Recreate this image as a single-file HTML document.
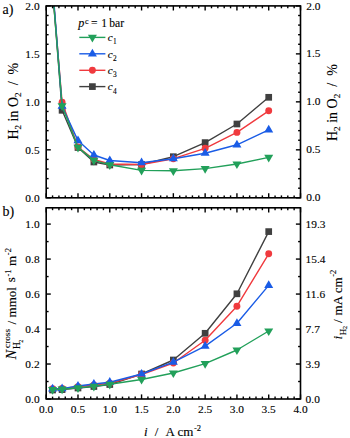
<!DOCTYPE html><html><head><meta charset="utf-8"><style>html,body{margin:0;padding:0;background:#fff;}svg{display:block;}text{font-family:"Liberation Serif",serif;fill:#000;stroke:#000;stroke-width:0.12px;}</style></head><body>
<svg width="350" height="438" viewBox="0 0 350 438">
<defs><clipPath id="ca"><rect x="46.2" y="5.9" width="254.3" height="191.9"/></clipPath><clipPath id="cb"><rect x="46.2" y="207.8" width="254.3" height="191.2"/></clipPath></defs>
<polyline points="52.56,-12.00 62.09,110.30 77.99,147.50 93.88,162.00 109.78,165.00 141.56,164.50 173.35,156.70 205.14,142.60 236.93,124.00 268.71,97.30" fill="none" stroke="#404040" stroke-width="1.4" stroke-linejoin="round" clip-path="url(#ca)"/>
<rect x="58.74" y="106.95" width="6.7" height="6.7" fill="#404040"/>
<rect x="74.64" y="144.15" width="6.7" height="6.7" fill="#404040"/>
<rect x="90.53" y="158.65" width="6.7" height="6.7" fill="#404040"/>
<rect x="106.43" y="161.65" width="6.7" height="6.7" fill="#404040"/>
<rect x="138.21" y="161.15" width="6.7" height="6.7" fill="#404040"/>
<rect x="170.00" y="153.35" width="6.7" height="6.7" fill="#404040"/>
<rect x="201.79" y="139.25" width="6.7" height="6.7" fill="#404040"/>
<rect x="233.58" y="120.65" width="6.7" height="6.7" fill="#404040"/>
<rect x="265.36" y="93.95" width="6.7" height="6.7" fill="#404040"/>
<polyline points="52.56,-11.00 62.09,102.20 77.99,147.00 93.88,159.50 109.78,164.00 141.56,164.50 173.35,158.70 205.14,148.30 236.93,132.40 268.71,110.80" fill="none" stroke="#f03a3e" stroke-width="1.4" stroke-linejoin="round" clip-path="url(#ca)"/>
<circle cx="62.09" cy="102.20" r="3.45" fill="#f03a3e"/>
<circle cx="77.99" cy="147.00" r="3.45" fill="#f03a3e"/>
<circle cx="93.88" cy="159.50" r="3.45" fill="#f03a3e"/>
<circle cx="109.78" cy="164.00" r="3.45" fill="#f03a3e"/>
<circle cx="141.56" cy="164.50" r="3.45" fill="#f03a3e"/>
<circle cx="173.35" cy="158.70" r="3.45" fill="#f03a3e"/>
<circle cx="205.14" cy="148.30" r="3.45" fill="#f03a3e"/>
<circle cx="236.93" cy="132.40" r="3.45" fill="#f03a3e"/>
<circle cx="268.71" cy="110.80" r="3.45" fill="#f03a3e"/>
<polyline points="52.56,-15.00 62.09,106.20 77.99,140.60 93.88,155.00 109.78,160.50 141.56,162.70 173.35,158.70 205.14,153.20 236.93,144.80 268.71,129.90" fill="none" stroke="#1a5ce6" stroke-width="1.4" stroke-linejoin="round" clip-path="url(#ca)"/>
<polygon points="57.59,108.80 66.59,108.80 62.09,101.10" fill="#1a5ce6"/>
<polygon points="73.49,143.20 82.49,143.20 77.99,135.50" fill="#1a5ce6"/>
<polygon points="89.38,157.60 98.38,157.60 93.88,149.90" fill="#1a5ce6"/>
<polygon points="105.28,163.10 114.28,163.10 109.78,155.40" fill="#1a5ce6"/>
<polygon points="137.06,165.30 146.06,165.30 141.56,157.60" fill="#1a5ce6"/>
<polygon points="168.85,161.30 177.85,161.30 173.35,153.60" fill="#1a5ce6"/>
<polygon points="200.64,155.80 209.64,155.80 205.14,148.10" fill="#1a5ce6"/>
<polygon points="232.43,147.40 241.43,147.40 236.93,139.70" fill="#1a5ce6"/>
<polygon points="264.21,132.50 273.21,132.50 268.71,124.80" fill="#1a5ce6"/>
<polyline points="52.56,-10.00 62.09,105.80 77.99,147.40 93.88,160.40 109.78,164.80 141.56,170.40 173.35,170.80 205.14,168.60 236.93,164.00 268.71,157.40" fill="none" stroke="#22a05a" stroke-width="1.4" stroke-linejoin="round" clip-path="url(#ca)"/>
<polygon points="57.59,103.20 66.59,103.20 62.09,110.90" fill="#22a05a"/>
<polygon points="73.49,144.80 82.49,144.80 77.99,152.50" fill="#22a05a"/>
<polygon points="89.38,157.80 98.38,157.80 93.88,165.50" fill="#22a05a"/>
<polygon points="105.28,162.20 114.28,162.20 109.78,169.90" fill="#22a05a"/>
<polygon points="137.06,167.80 146.06,167.80 141.56,175.50" fill="#22a05a"/>
<polygon points="168.85,168.20 177.85,168.20 173.35,175.90" fill="#22a05a"/>
<polygon points="200.64,166.00 209.64,166.00 205.14,173.70" fill="#22a05a"/>
<polygon points="232.43,161.40 241.43,161.40 236.93,169.10" fill="#22a05a"/>
<polygon points="264.21,154.80 273.21,154.80 268.71,162.50" fill="#22a05a"/>
<polyline points="52.56,390.00 62.09,389.60 77.99,388.00 93.88,386.50 109.78,384.50 141.56,374.00 173.35,360.00 205.14,333.30 236.93,293.80 268.71,231.60" fill="none" stroke="#404040" stroke-width="1.4" stroke-linejoin="round" clip-path="url(#cb)"/>
<rect x="49.21" y="386.65" width="6.7" height="6.7" fill="#404040"/>
<rect x="58.74" y="386.25" width="6.7" height="6.7" fill="#404040"/>
<rect x="74.64" y="384.65" width="6.7" height="6.7" fill="#404040"/>
<rect x="90.53" y="383.15" width="6.7" height="6.7" fill="#404040"/>
<rect x="106.43" y="381.15" width="6.7" height="6.7" fill="#404040"/>
<rect x="138.21" y="370.65" width="6.7" height="6.7" fill="#404040"/>
<rect x="170.00" y="356.65" width="6.7" height="6.7" fill="#404040"/>
<rect x="201.79" y="329.95" width="6.7" height="6.7" fill="#404040"/>
<rect x="233.58" y="290.45" width="6.7" height="6.7" fill="#404040"/>
<rect x="265.36" y="228.25" width="6.7" height="6.7" fill="#404040"/>
<polyline points="52.56,388.80 62.09,388.40 77.99,386.80 93.88,385.00 109.78,383.20 141.56,374.50 173.35,363.00 205.14,340.20 236.93,306.20 268.71,253.80" fill="none" stroke="#f03a3e" stroke-width="1.4" stroke-linejoin="round" clip-path="url(#cb)"/>
<circle cx="52.56" cy="388.80" r="3.45" fill="#f03a3e"/>
<circle cx="62.09" cy="388.40" r="3.45" fill="#f03a3e"/>
<circle cx="77.99" cy="386.80" r="3.45" fill="#f03a3e"/>
<circle cx="93.88" cy="385.00" r="3.45" fill="#f03a3e"/>
<circle cx="109.78" cy="383.20" r="3.45" fill="#f03a3e"/>
<circle cx="141.56" cy="374.50" r="3.45" fill="#f03a3e"/>
<circle cx="173.35" cy="363.00" r="3.45" fill="#f03a3e"/>
<circle cx="205.14" cy="340.20" r="3.45" fill="#f03a3e"/>
<circle cx="236.93" cy="306.20" r="3.45" fill="#f03a3e"/>
<circle cx="268.71" cy="253.80" r="3.45" fill="#f03a3e"/>
<polyline points="52.56,388.90 62.09,388.60 77.99,386.00 93.88,384.00 109.78,382.20 141.56,374.00 173.35,362.20 205.14,346.10 236.93,323.30 268.71,285.40" fill="none" stroke="#1a5ce6" stroke-width="1.4" stroke-linejoin="round" clip-path="url(#cb)"/>
<polygon points="48.06,391.50 57.06,391.50 52.56,383.80" fill="#1a5ce6"/>
<polygon points="57.59,391.20 66.59,391.20 62.09,383.50" fill="#1a5ce6"/>
<polygon points="73.49,388.60 82.49,388.60 77.99,380.90" fill="#1a5ce6"/>
<polygon points="89.38,386.60 98.38,386.60 93.88,378.90" fill="#1a5ce6"/>
<polygon points="105.28,384.80 114.28,384.80 109.78,377.10" fill="#1a5ce6"/>
<polygon points="137.06,376.60 146.06,376.60 141.56,368.90" fill="#1a5ce6"/>
<polygon points="168.85,364.80 177.85,364.80 173.35,357.10" fill="#1a5ce6"/>
<polygon points="200.64,348.70 209.64,348.70 205.14,341.00" fill="#1a5ce6"/>
<polygon points="232.43,325.90 241.43,325.90 236.93,318.20" fill="#1a5ce6"/>
<polygon points="264.21,288.00 273.21,288.00 268.71,280.30" fill="#1a5ce6"/>
<polyline points="52.56,389.60 62.09,389.20 77.99,387.80 93.88,386.40 109.78,384.30 141.56,379.50 173.35,373.00 205.14,363.60 236.93,350.00 268.71,331.00" fill="none" stroke="#22a05a" stroke-width="1.4" stroke-linejoin="round" clip-path="url(#cb)"/>
<polygon points="48.06,387.00 57.06,387.00 52.56,394.70" fill="#22a05a"/>
<polygon points="57.59,386.60 66.59,386.60 62.09,394.30" fill="#22a05a"/>
<polygon points="73.49,385.20 82.49,385.20 77.99,392.90" fill="#22a05a"/>
<polygon points="89.38,383.80 98.38,383.80 93.88,391.50" fill="#22a05a"/>
<polygon points="105.28,381.70 114.28,381.70 109.78,389.40" fill="#22a05a"/>
<polygon points="137.06,376.90 146.06,376.90 141.56,384.60" fill="#22a05a"/>
<polygon points="168.85,370.40 177.85,370.40 173.35,378.10" fill="#22a05a"/>
<polygon points="200.64,361.00 209.64,361.00 205.14,368.70" fill="#22a05a"/>
<polygon points="232.43,347.40 241.43,347.40 236.93,355.10" fill="#22a05a"/>
<polygon points="264.21,328.40 273.21,328.40 268.71,336.10" fill="#22a05a"/>
<line x1="79.3" y1="37.4" x2="105.4" y2="37.4" stroke="#22a05a" stroke-width="1.4"/>
<polygon points="87.90,34.80 96.90,34.80 92.40,42.50" fill="#22a05a"/>
<line x1="79.3" y1="53.8" x2="105.4" y2="53.8" stroke="#1a5ce6" stroke-width="1.4"/>
<polygon points="87.90,56.40 96.90,56.40 92.40,48.70" fill="#1a5ce6"/>
<line x1="79.3" y1="70.3" x2="105.4" y2="70.3" stroke="#f03a3e" stroke-width="1.4"/>
<circle cx="92.40" cy="70.30" r="3.45" fill="#f03a3e"/>
<line x1="79.3" y1="86.6" x2="105.4" y2="86.6" stroke="#404040" stroke-width="1.4"/>
<rect x="89.05" y="83.25" width="6.7" height="6.7" fill="#404040"/>
<g stroke="#000" stroke-width="1.4" fill="none">
<line x1="46.20" y1="197.80" x2="50.80" y2="197.80"/>
<line x1="300.50" y1="197.80" x2="295.90" y2="197.80"/>
<line x1="46.20" y1="188.21" x2="48.60" y2="188.21"/>
<line x1="300.50" y1="188.21" x2="298.10" y2="188.21"/>
<line x1="46.20" y1="178.61" x2="48.60" y2="178.61"/>
<line x1="300.50" y1="178.61" x2="298.10" y2="178.61"/>
<line x1="46.20" y1="169.02" x2="48.60" y2="169.02"/>
<line x1="300.50" y1="169.02" x2="298.10" y2="169.02"/>
<line x1="46.20" y1="159.42" x2="48.60" y2="159.42"/>
<line x1="300.50" y1="159.42" x2="298.10" y2="159.42"/>
<line x1="46.20" y1="149.83" x2="50.80" y2="149.83"/>
<line x1="300.50" y1="149.83" x2="295.90" y2="149.83"/>
<line x1="46.20" y1="140.23" x2="48.60" y2="140.23"/>
<line x1="300.50" y1="140.23" x2="298.10" y2="140.23"/>
<line x1="46.20" y1="130.64" x2="48.60" y2="130.64"/>
<line x1="300.50" y1="130.64" x2="298.10" y2="130.64"/>
<line x1="46.20" y1="121.04" x2="48.60" y2="121.04"/>
<line x1="300.50" y1="121.04" x2="298.10" y2="121.04"/>
<line x1="46.20" y1="111.45" x2="48.60" y2="111.45"/>
<line x1="300.50" y1="111.45" x2="298.10" y2="111.45"/>
<line x1="46.20" y1="101.85" x2="50.80" y2="101.85"/>
<line x1="300.50" y1="101.85" x2="295.90" y2="101.85"/>
<line x1="46.20" y1="92.25" x2="48.60" y2="92.25"/>
<line x1="300.50" y1="92.25" x2="298.10" y2="92.25"/>
<line x1="46.20" y1="82.66" x2="48.60" y2="82.66"/>
<line x1="300.50" y1="82.66" x2="298.10" y2="82.66"/>
<line x1="46.20" y1="73.06" x2="48.60" y2="73.06"/>
<line x1="300.50" y1="73.06" x2="298.10" y2="73.06"/>
<line x1="46.20" y1="63.47" x2="48.60" y2="63.47"/>
<line x1="300.50" y1="63.47" x2="298.10" y2="63.47"/>
<line x1="46.20" y1="53.88" x2="50.80" y2="53.88"/>
<line x1="300.50" y1="53.88" x2="295.90" y2="53.88"/>
<line x1="46.20" y1="44.28" x2="48.60" y2="44.28"/>
<line x1="300.50" y1="44.28" x2="298.10" y2="44.28"/>
<line x1="46.20" y1="34.69" x2="48.60" y2="34.69"/>
<line x1="300.50" y1="34.69" x2="298.10" y2="34.69"/>
<line x1="46.20" y1="25.09" x2="48.60" y2="25.09"/>
<line x1="300.50" y1="25.09" x2="298.10" y2="25.09"/>
<line x1="46.20" y1="15.50" x2="48.60" y2="15.50"/>
<line x1="300.50" y1="15.50" x2="298.10" y2="15.50"/>
<line x1="46.20" y1="5.90" x2="50.80" y2="5.90"/>
<line x1="300.50" y1="5.90" x2="295.90" y2="5.90"/>
<line x1="46.20" y1="5.90" x2="46.20" y2="10.50"/>
<line x1="46.20" y1="197.80" x2="46.20" y2="193.20"/>
<line x1="52.56" y1="5.90" x2="52.56" y2="8.30"/>
<line x1="52.56" y1="197.80" x2="52.56" y2="195.40"/>
<line x1="58.92" y1="5.90" x2="58.92" y2="8.30"/>
<line x1="58.92" y1="197.80" x2="58.92" y2="195.40"/>
<line x1="65.27" y1="5.90" x2="65.27" y2="8.30"/>
<line x1="65.27" y1="197.80" x2="65.27" y2="195.40"/>
<line x1="71.63" y1="5.90" x2="71.63" y2="8.30"/>
<line x1="71.63" y1="197.80" x2="71.63" y2="195.40"/>
<line x1="77.99" y1="5.90" x2="77.99" y2="10.50"/>
<line x1="77.99" y1="197.80" x2="77.99" y2="193.20"/>
<line x1="84.34" y1="5.90" x2="84.34" y2="8.30"/>
<line x1="84.34" y1="197.80" x2="84.34" y2="195.40"/>
<line x1="90.70" y1="5.90" x2="90.70" y2="8.30"/>
<line x1="90.70" y1="197.80" x2="90.70" y2="195.40"/>
<line x1="97.06" y1="5.90" x2="97.06" y2="8.30"/>
<line x1="97.06" y1="197.80" x2="97.06" y2="195.40"/>
<line x1="103.42" y1="5.90" x2="103.42" y2="8.30"/>
<line x1="103.42" y1="197.80" x2="103.42" y2="195.40"/>
<line x1="109.78" y1="5.90" x2="109.78" y2="10.50"/>
<line x1="109.78" y1="197.80" x2="109.78" y2="193.20"/>
<line x1="116.13" y1="5.90" x2="116.13" y2="8.30"/>
<line x1="116.13" y1="197.80" x2="116.13" y2="195.40"/>
<line x1="122.49" y1="5.90" x2="122.49" y2="8.30"/>
<line x1="122.49" y1="197.80" x2="122.49" y2="195.40"/>
<line x1="128.85" y1="5.90" x2="128.85" y2="8.30"/>
<line x1="128.85" y1="197.80" x2="128.85" y2="195.40"/>
<line x1="135.20" y1="5.90" x2="135.20" y2="8.30"/>
<line x1="135.20" y1="197.80" x2="135.20" y2="195.40"/>
<line x1="141.56" y1="5.90" x2="141.56" y2="10.50"/>
<line x1="141.56" y1="197.80" x2="141.56" y2="193.20"/>
<line x1="147.92" y1="5.90" x2="147.92" y2="8.30"/>
<line x1="147.92" y1="197.80" x2="147.92" y2="195.40"/>
<line x1="154.28" y1="5.90" x2="154.28" y2="8.30"/>
<line x1="154.28" y1="197.80" x2="154.28" y2="195.40"/>
<line x1="160.63" y1="5.90" x2="160.63" y2="8.30"/>
<line x1="160.63" y1="197.80" x2="160.63" y2="195.40"/>
<line x1="166.99" y1="5.90" x2="166.99" y2="8.30"/>
<line x1="166.99" y1="197.80" x2="166.99" y2="195.40"/>
<line x1="173.35" y1="5.90" x2="173.35" y2="10.50"/>
<line x1="173.35" y1="197.80" x2="173.35" y2="193.20"/>
<line x1="179.71" y1="5.90" x2="179.71" y2="8.30"/>
<line x1="179.71" y1="197.80" x2="179.71" y2="195.40"/>
<line x1="186.06" y1="5.90" x2="186.06" y2="8.30"/>
<line x1="186.06" y1="197.80" x2="186.06" y2="195.40"/>
<line x1="192.42" y1="5.90" x2="192.42" y2="8.30"/>
<line x1="192.42" y1="197.80" x2="192.42" y2="195.40"/>
<line x1="198.78" y1="5.90" x2="198.78" y2="8.30"/>
<line x1="198.78" y1="197.80" x2="198.78" y2="195.40"/>
<line x1="205.14" y1="5.90" x2="205.14" y2="10.50"/>
<line x1="205.14" y1="197.80" x2="205.14" y2="193.20"/>
<line x1="211.50" y1="5.90" x2="211.50" y2="8.30"/>
<line x1="211.50" y1="197.80" x2="211.50" y2="195.40"/>
<line x1="217.85" y1="5.90" x2="217.85" y2="8.30"/>
<line x1="217.85" y1="197.80" x2="217.85" y2="195.40"/>
<line x1="224.21" y1="5.90" x2="224.21" y2="8.30"/>
<line x1="224.21" y1="197.80" x2="224.21" y2="195.40"/>
<line x1="230.57" y1="5.90" x2="230.57" y2="8.30"/>
<line x1="230.57" y1="197.80" x2="230.57" y2="195.40"/>
<line x1="236.93" y1="5.90" x2="236.93" y2="10.50"/>
<line x1="236.93" y1="197.80" x2="236.93" y2="193.20"/>
<line x1="243.28" y1="5.90" x2="243.28" y2="8.30"/>
<line x1="243.28" y1="197.80" x2="243.28" y2="195.40"/>
<line x1="249.64" y1="5.90" x2="249.64" y2="8.30"/>
<line x1="249.64" y1="197.80" x2="249.64" y2="195.40"/>
<line x1="256.00" y1="5.90" x2="256.00" y2="8.30"/>
<line x1="256.00" y1="197.80" x2="256.00" y2="195.40"/>
<line x1="262.36" y1="5.90" x2="262.36" y2="8.30"/>
<line x1="262.36" y1="197.80" x2="262.36" y2="195.40"/>
<line x1="268.71" y1="5.90" x2="268.71" y2="10.50"/>
<line x1="268.71" y1="197.80" x2="268.71" y2="193.20"/>
<line x1="275.07" y1="5.90" x2="275.07" y2="8.30"/>
<line x1="275.07" y1="197.80" x2="275.07" y2="195.40"/>
<line x1="281.43" y1="5.90" x2="281.43" y2="8.30"/>
<line x1="281.43" y1="197.80" x2="281.43" y2="195.40"/>
<line x1="287.79" y1="5.90" x2="287.79" y2="8.30"/>
<line x1="287.79" y1="197.80" x2="287.79" y2="195.40"/>
<line x1="294.14" y1="5.90" x2="294.14" y2="8.30"/>
<line x1="294.14" y1="197.80" x2="294.14" y2="195.40"/>
<line x1="300.50" y1="5.90" x2="300.50" y2="10.50"/>
<line x1="300.50" y1="197.80" x2="300.50" y2="193.20"/>
<line x1="46.20" y1="399.00" x2="50.80" y2="399.00"/>
<line x1="300.50" y1="399.00" x2="295.90" y2="399.00"/>
<line x1="46.20" y1="381.51" x2="48.60" y2="381.51"/>
<line x1="300.50" y1="381.51" x2="298.10" y2="381.51"/>
<line x1="46.20" y1="364.02" x2="50.80" y2="364.02"/>
<line x1="300.50" y1="364.02" x2="295.90" y2="364.02"/>
<line x1="46.20" y1="346.53" x2="48.60" y2="346.53"/>
<line x1="300.50" y1="346.53" x2="298.10" y2="346.53"/>
<line x1="46.20" y1="329.04" x2="50.80" y2="329.04"/>
<line x1="300.50" y1="329.04" x2="295.90" y2="329.04"/>
<line x1="46.20" y1="311.55" x2="48.60" y2="311.55"/>
<line x1="300.50" y1="311.55" x2="298.10" y2="311.55"/>
<line x1="46.20" y1="294.06" x2="50.80" y2="294.06"/>
<line x1="300.50" y1="294.06" x2="295.90" y2="294.06"/>
<line x1="46.20" y1="276.57" x2="48.60" y2="276.57"/>
<line x1="300.50" y1="276.57" x2="298.10" y2="276.57"/>
<line x1="46.20" y1="259.08" x2="50.80" y2="259.08"/>
<line x1="300.50" y1="259.08" x2="295.90" y2="259.08"/>
<line x1="46.20" y1="241.59" x2="48.60" y2="241.59"/>
<line x1="300.50" y1="241.59" x2="298.10" y2="241.59"/>
<line x1="46.20" y1="224.10" x2="50.80" y2="224.10"/>
<line x1="300.50" y1="224.10" x2="295.90" y2="224.10"/>
<line x1="46.20" y1="207.80" x2="46.20" y2="212.40"/>
<line x1="46.20" y1="399.00" x2="46.20" y2="394.40"/>
<line x1="52.56" y1="207.80" x2="52.56" y2="210.20"/>
<line x1="52.56" y1="399.00" x2="52.56" y2="396.60"/>
<line x1="58.92" y1="207.80" x2="58.92" y2="210.20"/>
<line x1="58.92" y1="399.00" x2="58.92" y2="396.60"/>
<line x1="65.27" y1="207.80" x2="65.27" y2="210.20"/>
<line x1="65.27" y1="399.00" x2="65.27" y2="396.60"/>
<line x1="71.63" y1="207.80" x2="71.63" y2="210.20"/>
<line x1="71.63" y1="399.00" x2="71.63" y2="396.60"/>
<line x1="77.99" y1="207.80" x2="77.99" y2="212.40"/>
<line x1="77.99" y1="399.00" x2="77.99" y2="394.40"/>
<line x1="84.34" y1="207.80" x2="84.34" y2="210.20"/>
<line x1="84.34" y1="399.00" x2="84.34" y2="396.60"/>
<line x1="90.70" y1="207.80" x2="90.70" y2="210.20"/>
<line x1="90.70" y1="399.00" x2="90.70" y2="396.60"/>
<line x1="97.06" y1="207.80" x2="97.06" y2="210.20"/>
<line x1="97.06" y1="399.00" x2="97.06" y2="396.60"/>
<line x1="103.42" y1="207.80" x2="103.42" y2="210.20"/>
<line x1="103.42" y1="399.00" x2="103.42" y2="396.60"/>
<line x1="109.78" y1="207.80" x2="109.78" y2="212.40"/>
<line x1="109.78" y1="399.00" x2="109.78" y2="394.40"/>
<line x1="116.13" y1="207.80" x2="116.13" y2="210.20"/>
<line x1="116.13" y1="399.00" x2="116.13" y2="396.60"/>
<line x1="122.49" y1="207.80" x2="122.49" y2="210.20"/>
<line x1="122.49" y1="399.00" x2="122.49" y2="396.60"/>
<line x1="128.85" y1="207.80" x2="128.85" y2="210.20"/>
<line x1="128.85" y1="399.00" x2="128.85" y2="396.60"/>
<line x1="135.20" y1="207.80" x2="135.20" y2="210.20"/>
<line x1="135.20" y1="399.00" x2="135.20" y2="396.60"/>
<line x1="141.56" y1="207.80" x2="141.56" y2="212.40"/>
<line x1="141.56" y1="399.00" x2="141.56" y2="394.40"/>
<line x1="147.92" y1="207.80" x2="147.92" y2="210.20"/>
<line x1="147.92" y1="399.00" x2="147.92" y2="396.60"/>
<line x1="154.28" y1="207.80" x2="154.28" y2="210.20"/>
<line x1="154.28" y1="399.00" x2="154.28" y2="396.60"/>
<line x1="160.63" y1="207.80" x2="160.63" y2="210.20"/>
<line x1="160.63" y1="399.00" x2="160.63" y2="396.60"/>
<line x1="166.99" y1="207.80" x2="166.99" y2="210.20"/>
<line x1="166.99" y1="399.00" x2="166.99" y2="396.60"/>
<line x1="173.35" y1="207.80" x2="173.35" y2="212.40"/>
<line x1="173.35" y1="399.00" x2="173.35" y2="394.40"/>
<line x1="179.71" y1="207.80" x2="179.71" y2="210.20"/>
<line x1="179.71" y1="399.00" x2="179.71" y2="396.60"/>
<line x1="186.06" y1="207.80" x2="186.06" y2="210.20"/>
<line x1="186.06" y1="399.00" x2="186.06" y2="396.60"/>
<line x1="192.42" y1="207.80" x2="192.42" y2="210.20"/>
<line x1="192.42" y1="399.00" x2="192.42" y2="396.60"/>
<line x1="198.78" y1="207.80" x2="198.78" y2="210.20"/>
<line x1="198.78" y1="399.00" x2="198.78" y2="396.60"/>
<line x1="205.14" y1="207.80" x2="205.14" y2="212.40"/>
<line x1="205.14" y1="399.00" x2="205.14" y2="394.40"/>
<line x1="211.50" y1="207.80" x2="211.50" y2="210.20"/>
<line x1="211.50" y1="399.00" x2="211.50" y2="396.60"/>
<line x1="217.85" y1="207.80" x2="217.85" y2="210.20"/>
<line x1="217.85" y1="399.00" x2="217.85" y2="396.60"/>
<line x1="224.21" y1="207.80" x2="224.21" y2="210.20"/>
<line x1="224.21" y1="399.00" x2="224.21" y2="396.60"/>
<line x1="230.57" y1="207.80" x2="230.57" y2="210.20"/>
<line x1="230.57" y1="399.00" x2="230.57" y2="396.60"/>
<line x1="236.93" y1="207.80" x2="236.93" y2="212.40"/>
<line x1="236.93" y1="399.00" x2="236.93" y2="394.40"/>
<line x1="243.28" y1="207.80" x2="243.28" y2="210.20"/>
<line x1="243.28" y1="399.00" x2="243.28" y2="396.60"/>
<line x1="249.64" y1="207.80" x2="249.64" y2="210.20"/>
<line x1="249.64" y1="399.00" x2="249.64" y2="396.60"/>
<line x1="256.00" y1="207.80" x2="256.00" y2="210.20"/>
<line x1="256.00" y1="399.00" x2="256.00" y2="396.60"/>
<line x1="262.36" y1="207.80" x2="262.36" y2="210.20"/>
<line x1="262.36" y1="399.00" x2="262.36" y2="396.60"/>
<line x1="268.71" y1="207.80" x2="268.71" y2="212.40"/>
<line x1="268.71" y1="399.00" x2="268.71" y2="394.40"/>
<line x1="275.07" y1="207.80" x2="275.07" y2="210.20"/>
<line x1="275.07" y1="399.00" x2="275.07" y2="396.60"/>
<line x1="281.43" y1="207.80" x2="281.43" y2="210.20"/>
<line x1="281.43" y1="399.00" x2="281.43" y2="396.60"/>
<line x1="287.79" y1="207.80" x2="287.79" y2="210.20"/>
<line x1="287.79" y1="399.00" x2="287.79" y2="396.60"/>
<line x1="294.14" y1="207.80" x2="294.14" y2="210.20"/>
<line x1="294.14" y1="399.00" x2="294.14" y2="396.60"/>
<line x1="300.50" y1="207.80" x2="300.50" y2="212.40"/>
<line x1="300.50" y1="399.00" x2="300.50" y2="394.40"/>
</g>
<rect x="46.2" y="5.9" width="254.3" height="191.9" fill="none" stroke="#000" stroke-width="1.6"/>
<rect x="46.2" y="207.8" width="254.3" height="191.2" fill="none" stroke="#000" stroke-width="1.6"/>
<text x="39.6" y="201.70" font-size="11.4" text-anchor="end">0.0</text>
<text x="306.3" y="201.40" font-size="11.4">0.0</text>
<text x="39.6" y="153.73" font-size="11.4" text-anchor="end">0.5</text>
<text x="306.3" y="153.43" font-size="11.4">0.5</text>
<text x="39.6" y="105.75" font-size="11.4" text-anchor="end">1.0</text>
<text x="306.3" y="105.45" font-size="11.4">1.0</text>
<text x="39.6" y="57.77" font-size="11.4" text-anchor="end">1.5</text>
<text x="306.3" y="57.48" font-size="11.4">1.5</text>
<text x="39.6" y="9.80" font-size="11.4" text-anchor="end">2.0</text>
<text x="306.3" y="9.50" font-size="11.4">2.0</text>
<text x="39.6" y="402.90" font-size="11.4" text-anchor="end">0.0</text>
<text x="305.6" y="402.90" font-size="11.4">0.0</text>
<text x="39.6" y="367.92" font-size="11.4" text-anchor="end">0.2</text>
<text x="305.6" y="367.92" font-size="11.4">3.9</text>
<text x="39.6" y="332.94" font-size="11.4" text-anchor="end">0.4</text>
<text x="305.6" y="332.94" font-size="11.4">7.7</text>
<text x="39.6" y="297.96" font-size="11.4" text-anchor="end">0.6</text>
<text x="305.6" y="297.96" font-size="11.4">11.6</text>
<text x="39.6" y="262.98" font-size="11.4" text-anchor="end">0.8</text>
<text x="305.6" y="262.98" font-size="11.4">15.4</text>
<text x="39.6" y="228.00" font-size="11.4" text-anchor="end">1.0</text>
<text x="305.6" y="228.00" font-size="11.4">19.3</text>
<text x="46.20" y="413.0" font-size="11.4" text-anchor="middle">0.0</text>
<text x="77.99" y="413.0" font-size="11.4" text-anchor="middle">0.5</text>
<text x="109.78" y="413.0" font-size="11.4" text-anchor="middle">1.0</text>
<text x="141.56" y="413.0" font-size="11.4" text-anchor="middle">1.5</text>
<text x="173.35" y="413.0" font-size="11.4" text-anchor="middle">2.0</text>
<text x="205.14" y="413.0" font-size="11.4" text-anchor="middle">2.5</text>
<text x="236.93" y="413.0" font-size="11.4" text-anchor="middle">3.0</text>
<text x="268.71" y="413.0" font-size="11.4" text-anchor="middle">3.5</text>
<text x="300.50" y="413.0" font-size="11.4" text-anchor="middle">4.0</text>
<text x="2.5" y="13.7" font-size="14">a)</text>
<text x="2.6" y="216.3" font-size="14">b)</text>
<text x="78.2" y="27.4" font-size="12.2" font-style="italic">p</text>
<text x="85.0" y="23.6" font-size="8">c</text>
<text x="91.0" y="26.9" font-size="11.6">=</text>
<text x="101.2" y="26.9" font-size="11.6">1</text>
<text x="109.3" y="26.9" font-size="11.6">bar</text>
<text x="107.8" y="41.20" font-size="11.2" font-style="italic">c</text>
<text x="113.0" y="44.40" font-size="7.4">1</text>
<text x="107.8" y="57.60" font-size="11.2" font-style="italic">c</text>
<text x="113.0" y="60.80" font-size="7.4">2</text>
<text x="107.8" y="74.10" font-size="11.2" font-style="italic">c</text>
<text x="113.0" y="77.30" font-size="7.4">3</text>
<text x="107.8" y="90.40" font-size="11.2" font-style="italic">c</text>
<text x="113.0" y="93.60" font-size="7.4">4</text>
<text transform="translate(17.7,139.6) rotate(-90)" font-size="14" style="white-space:pre">H<tspan font-size="9.2" dy="3">2</tspan><tspan dy="-3"> in O</tspan><tspan font-size="9.2" dy="3">2</tspan><tspan dy="-3">  /  %</tspan></text>
<text transform="translate(336.6,141.0) rotate(-90)" font-size="14" style="white-space:pre">H<tspan font-size="9.2" dy="3">2</tspan><tspan dy="-3"> in O</tspan><tspan font-size="9.2" dy="3">2</tspan><tspan dy="-3">  /  %</tspan></text>
<text x="144.0" y="436.0" font-size="13" font-style="italic">i</text>
<text x="154.8" y="436.0" font-size="13">/</text>
<text x="165.6" y="436.0" font-size="13">A cm</text>
<text x="194.0" y="430.5" font-size="8.5">-2</text>
<text transform="translate(16.0,359.4) rotate(-90)" font-size="14.5" font-style="italic">N</text>
<text transform="translate(10.4,347.9) rotate(-90)" font-size="9.2">cross</text>
<text transform="translate(19.9,349.0) rotate(-90)" font-size="9.5">H</text>
<text transform="translate(22.6,342.8) rotate(-90)" font-size="6">2</text>
<text transform="translate(16.3,324.6) rotate(-90)" font-size="13">/</text>
<text transform="translate(15.9,317.4) rotate(-90)" font-size="13">mmol</text>
<text transform="translate(15.3,282.2) rotate(-90)" font-size="13">s</text>
<text transform="translate(10.5,276.6) rotate(-90)" font-size="8.5">-1</text>
<text transform="translate(15.6,265.9) rotate(-90)" font-size="13">m</text>
<text transform="translate(10.5,255.2) rotate(-90)" font-size="8.5">-2</text>
<text transform="translate(342.0,339.6) rotate(-90)" font-size="13" font-style="italic">i</text>
<text transform="translate(345.8,335.2) rotate(-90)" font-size="9">H</text>
<text transform="translate(347.4,329.0) rotate(-90)" font-size="6">2</text>
<text transform="translate(342.0,323.0) rotate(-90)" font-size="13">/</text>
<text transform="translate(342.2,315.4) rotate(-90)" font-size="13">mA cm</text>
<text transform="translate(335.6,276.8) rotate(-90)" font-size="8.5">-2</text>
</svg></body></html>
